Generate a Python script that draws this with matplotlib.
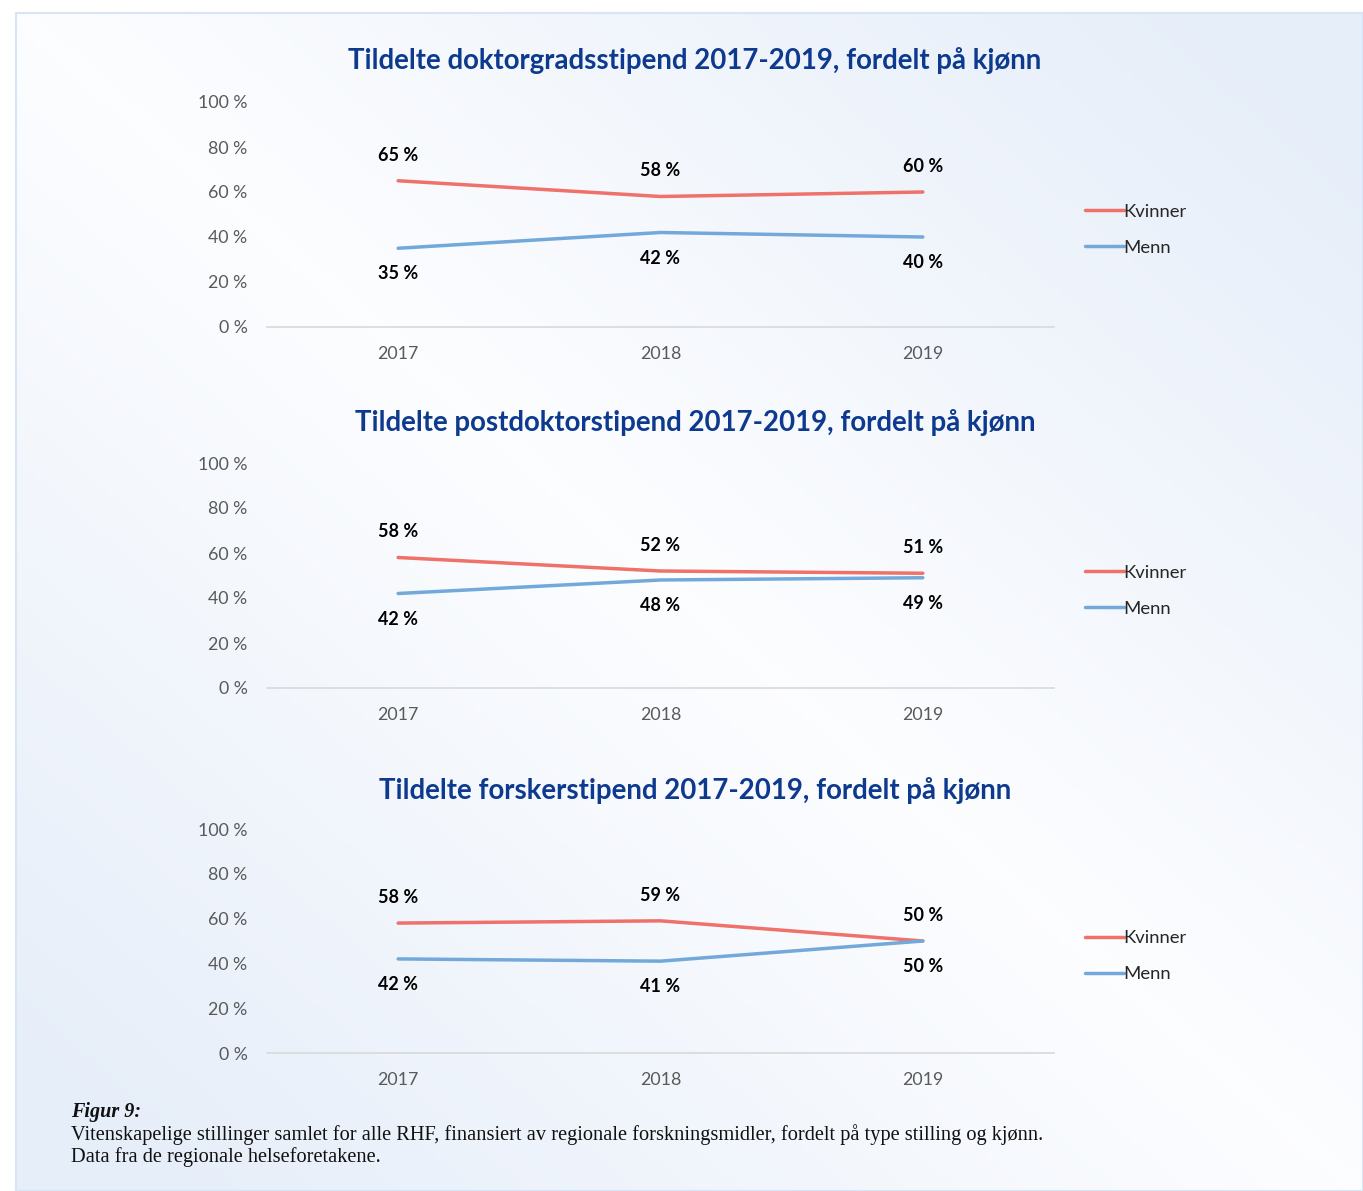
import matplotlib
matplotlib.use("Agg")
import matplotlib.pyplot as plt
import numpy as np

years = ["2017", "2018", "2019"]
titles = [
    "Tildelte doktorgradsstipend 2017-2019, fordelt på kjønn",
    "Tildelte postdoktorstipend 2017-2019, fordelt på kjønn",
    "Tildelte forskerstipend 2017-2019, fordelt på kjønn",
]
kvinner = [
    [65, 58, 60],
    [58, 52, 51],
    [58, 59, 50],
]
menn = [
    [35, 42, 40],
    [42, 48, 49],
    [42, 41, 50],
]
yticks = [0, 20, 40, 60, 80, 100]

RED = "#F0706A"
BLUE = "#72A9DA"
TITLE_BLUE = "#0D3A8E"
GRAY = "#595959"

plt.rcParams["font.family"] = ["Lato", "DejaVu Sans"]

W, H = 1363, 1191
fig = plt.figure(figsize=(W / 100, H / 100), dpi=100)
fig.patch.set_facecolor("white")

# background panel with soft gradient
bg = fig.add_axes([16 / W, 0, 1 - 16 / W, 1 - 13 / H], zorder=-10)
gx, gy = np.meshgrid(np.linspace(0, 1, 300), np.linspace(0, 1, 300))
t = np.clip(np.abs(gx - gy) * 1.15, 0, 1)
c0 = np.array([0.99, 0.993, 1.0])
c1 = np.array([0.905, 0.935, 0.978])
img = c0[None, None, :] * (1 - t[..., None]) + c1[None, None, :] * t[..., None]
bg.imshow(img, aspect="auto", extent=[0, 1, 0, 1], origin="upper")
bg.set_xlim(0, 1)
bg.set_ylim(0, 1)
for s in bg.spines.values():
    s.set_color("#D8E5F5")
    s.set_linewidth(1.5)
bg.set_xticks([])
bg.set_yticks([])

# pixel positions: (top of 100 %, bottom at 0 %, title y)
panels = [(102, 327, 61), (463, 688, 422), (829, 1053, 790)]
x0, x1 = 267, 1054

for i, (top, bot, ty) in enumerate(panels):
    ax = fig.add_axes([x0 / W, 1 - bot / H, (x1 - x0) / W, (bot - top) / H])
    ax.patch.set_alpha(0)
    x = np.arange(len(years))
    ax.plot(x, kvinner[i], color=RED, lw=2.5, solid_capstyle="round", label="Kvinner")
    ax.plot(x, menn[i], color=BLUE, lw=2.5, solid_capstyle="round", label="Menn")
    for xi, v in zip(x, kvinner[i]):
        ax.annotate(f"{v} %", (xi, v), xytext=(0, 18.5), textcoords="offset points",
                    ha="center", va="center", fontsize=13, fontweight="bold", color="black")
    for xi, v in zip(x, menn[i]):
        ax.annotate(f"{v} %", (xi, v), xytext=(0, -18.5), textcoords="offset points",
                    ha="center", va="center", fontsize=13, fontweight="bold", color="black")
    ax.set_xlim(-0.5, 2.5)
    ax.set_ylim(0, 100)
    ax.set_yticks(yticks)
    ax.set_yticklabels([f"{v} %" for v in yticks])
    ax.set_xticks(x)
    ax.set_xticklabels(years)
    ax.tick_params(length=0, labelsize=12.8, labelcolor=GRAY)
    ax.tick_params(axis="y", pad=14)
    ax.tick_params(axis="x", pad=13.5)
    for s in ["top", "right", "left"]:
        ax.spines[s].set_visible(False)
    ax.spines["bottom"].set_color("#D9D9D9")
    ax.spines["bottom"].set_linewidth(1.2)
    leg = ax.legend(loc="center left", bbox_to_anchor=(1.018, 0.432), frameon=False,
                    fontsize=13.3, handlelength=2.1, handletextpad=0.0, labelspacing=1.1)
    for txt in leg.get_texts():
        txt.set_color("#262626")
    fig.text(695 / W, 1 - ty / H, titles[i], ha="center", va="center",
             fontsize=19.9, fontweight="bold", color=TITLE_BLUE)

fig.text(71 / W, 1 - 1112 / H, "Figur 9:", ha="left", va="center", fontsize=14.5,
         fontweight="bold", style="italic", family="Liberation Serif", color="#111111")
fig.text(71 / W, 1 - 1135 / H,
         "Vitenskapelige stillinger samlet for alle RHF, finansiert av regionale forskningsmidler, fordelt på type stilling og kjønn.",
         ha="left", va="center", fontsize=14.7, family="Liberation Serif", color="#111111")
fig.text(71 / W, 1 - 1157 / H, "Data fra de regionale helseforetakene.",
         ha="left", va="center", fontsize=14.7, family="Liberation Serif", color="#111111")

fig.savefig("out.png", dpi=100)
